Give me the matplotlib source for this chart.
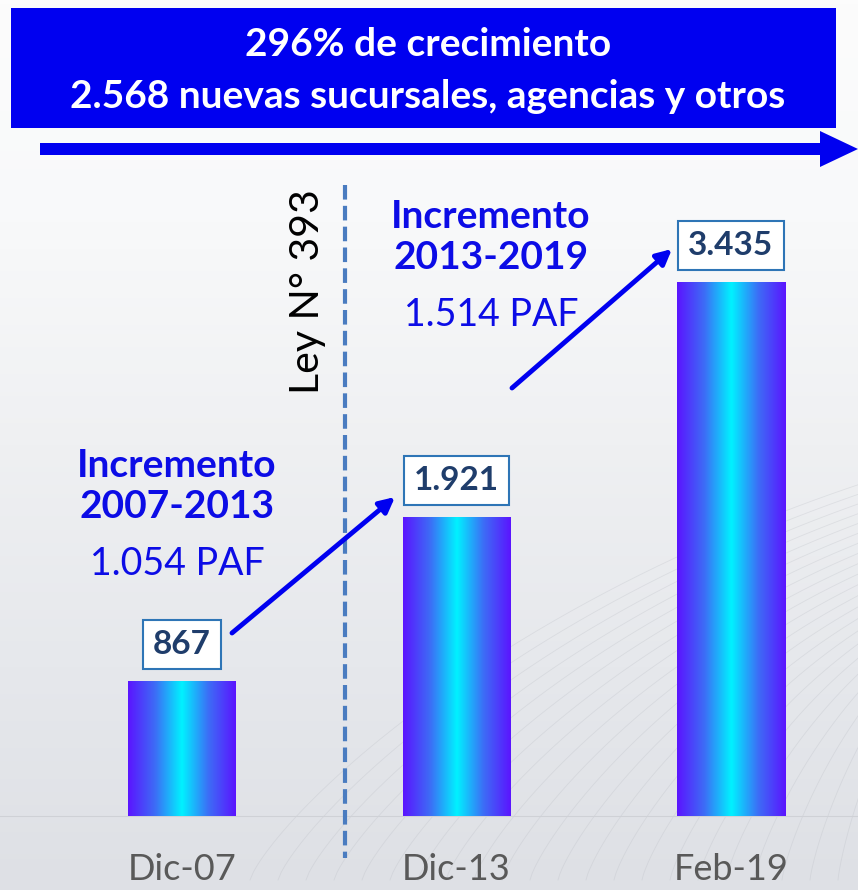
import numpy as np
import matplotlib
matplotlib.use("Agg")
import matplotlib.pyplot as plt
from matplotlib.colors import LinearSegmentedColormap
from matplotlib.patches import Rectangle, FancyArrow

plt.rcParams["font.family"] = ["Lato", "DejaVu Sans"]

# datos
periodos = ["Dic-07", "Dic-13", "Feb-19"]
puntos = [867, 1921, 3435]
titulo = ["296% de crecimiento", "2.568 nuevas sucursales, agencias y otros"]
incrementos = [("Incremento\n2007-2013", "1.054 PAF"),
               ("Incremento\n2013-2019", "1.514 PAF")]
ley = "Ley N° 393"

W, H = 858, 890
fig = plt.figure(figsize=(W / 100, H / 100), dpi=100)

# fondo en pixeles
bg = fig.add_axes([0, 0, 1, 1])
bg.set_xlim(0, W)
bg.set_ylim(H, 0)
bg.axis("off")
grad = np.linspace(0, 1, 200)[:, None]
cmap_bg = LinearSegmentedColormap.from_list(
    "bg", ["#fcfcfc", "#f8f9fa", "#eff0f2", "#e6e8ec", "#dee0e5"])
bg.imshow(grad, cmap=cmap_bg, extent=(0, W, H, 0), aspect="auto", zorder=0)
# lineas tenues decorativas
t = np.linspace(0, 1, 200)
for k in range(22):
    x0 = 250 + k * 28
    xs = x0 + (W + 80 - x0) * t
    ys = 880 - (560 - k * 12) * t ** 0.8 * (1 - 0.25 * t)
    bg.plot(xs, ys, color="#b9bcc3", lw=0.6, alpha=0.3, zorder=1)
bg.axhline(816, color="#cfd1d6", lw=0.8, zorder=1)

# barras
ax = fig.add_axes([0, 0, 1, 1])
ax.patch.set_alpha(0)
sep = 274.5
px_val = 6.44
ax.axis("off")

cmap_bar = LinearSegmentedColormap.from_list(
    "bar", ["#5b14ff", "#3d6cf6", "#00f2ff", "#3d6cf6", "#5b14ff"])
ancho = 108 / sep
row = np.linspace(0, 1, 256)[None, :]
for i, v in enumerate(puntos):
    ax.imshow(row, cmap=cmap_bar, extent=(i - ancho / 2, i + ancho / 2, 0, v),
              aspect="auto", zorder=3)
    ax.annotate(f"{v:,}".replace(",", "."), xy=(i, v), xytext=(0, 37),
                textcoords="offset pixels", ha="center", va="center",
                fontsize=24, fontweight="bold", color="#1f3d6b", zorder=5,
                bbox=dict(boxstyle="square,pad=0.3", fc="white",
                          ec="#2e75b6", lw=1.5))
    ax.text(i, -64 * px_val, periodos[i], ha="center", va="baseline",
            fontsize=26, color="#595959")
ax.set_xlim(-182 / sep, (W - 182) / sep)
ax.set_ylim(-74 * px_val, 816 * px_val)

# capa superior en pixeles
top = fig.add_axes([0, 0, 1, 1])
top.patch.set_alpha(0)
top.set_xlim(0, W)
top.set_ylim(H, 0)
top.axis("off")

top.add_patch(Rectangle((11, 8), 825, 120, fc="#0000f0", ec="none"))
top.text(428, 45, titulo[0], ha="center", va="center", color="white",
         fontsize=28, fontweight="bold")
top.text(428, 96, titulo[1], ha="center", va="center", color="white",
         fontsize=28, fontweight="bold")
top.add_patch(FancyArrow(40, 149, 780, 0, width=12, head_width=36,
                         head_length=38, length_includes_head=False,
                         fc="#0000f0", ec="none"))

top.plot([345, 345], [185, 858], color="#4a7cc0", lw=3, ls=(0, (3.5, 1.5)))
top.text(307, 292, ley, rotation=90, ha="center", va="center",
         fontsize=29.5, color="black")

azul = "#0c0ce6"
for (cab, paf), (cx, cy) in zip(incrementos, [(177, 486), (491, 237)]):
    top.text(cx, cy, cab, ha="center", va="center", fontsize=28,
             fontweight="bold", color=azul, linespacing=1.2)
    top.text(cx, cy + 78, paf, ha="center", va="center", fontsize=27,
             color=azul)

for (x1, y1), (x2, y2) in [((232, 633), (395, 497)), ((512, 388), (672, 249))]:
    top.annotate("", xy=(x2, y2), xytext=(x1, y1),
                 arrowprops=dict(arrowstyle="-|>,head_length=0.9,head_width=0.45",
                                 color="#0000f0", lw=3.5, shrinkA=0, shrinkB=0))

fig.savefig("out.png", dpi=100)
